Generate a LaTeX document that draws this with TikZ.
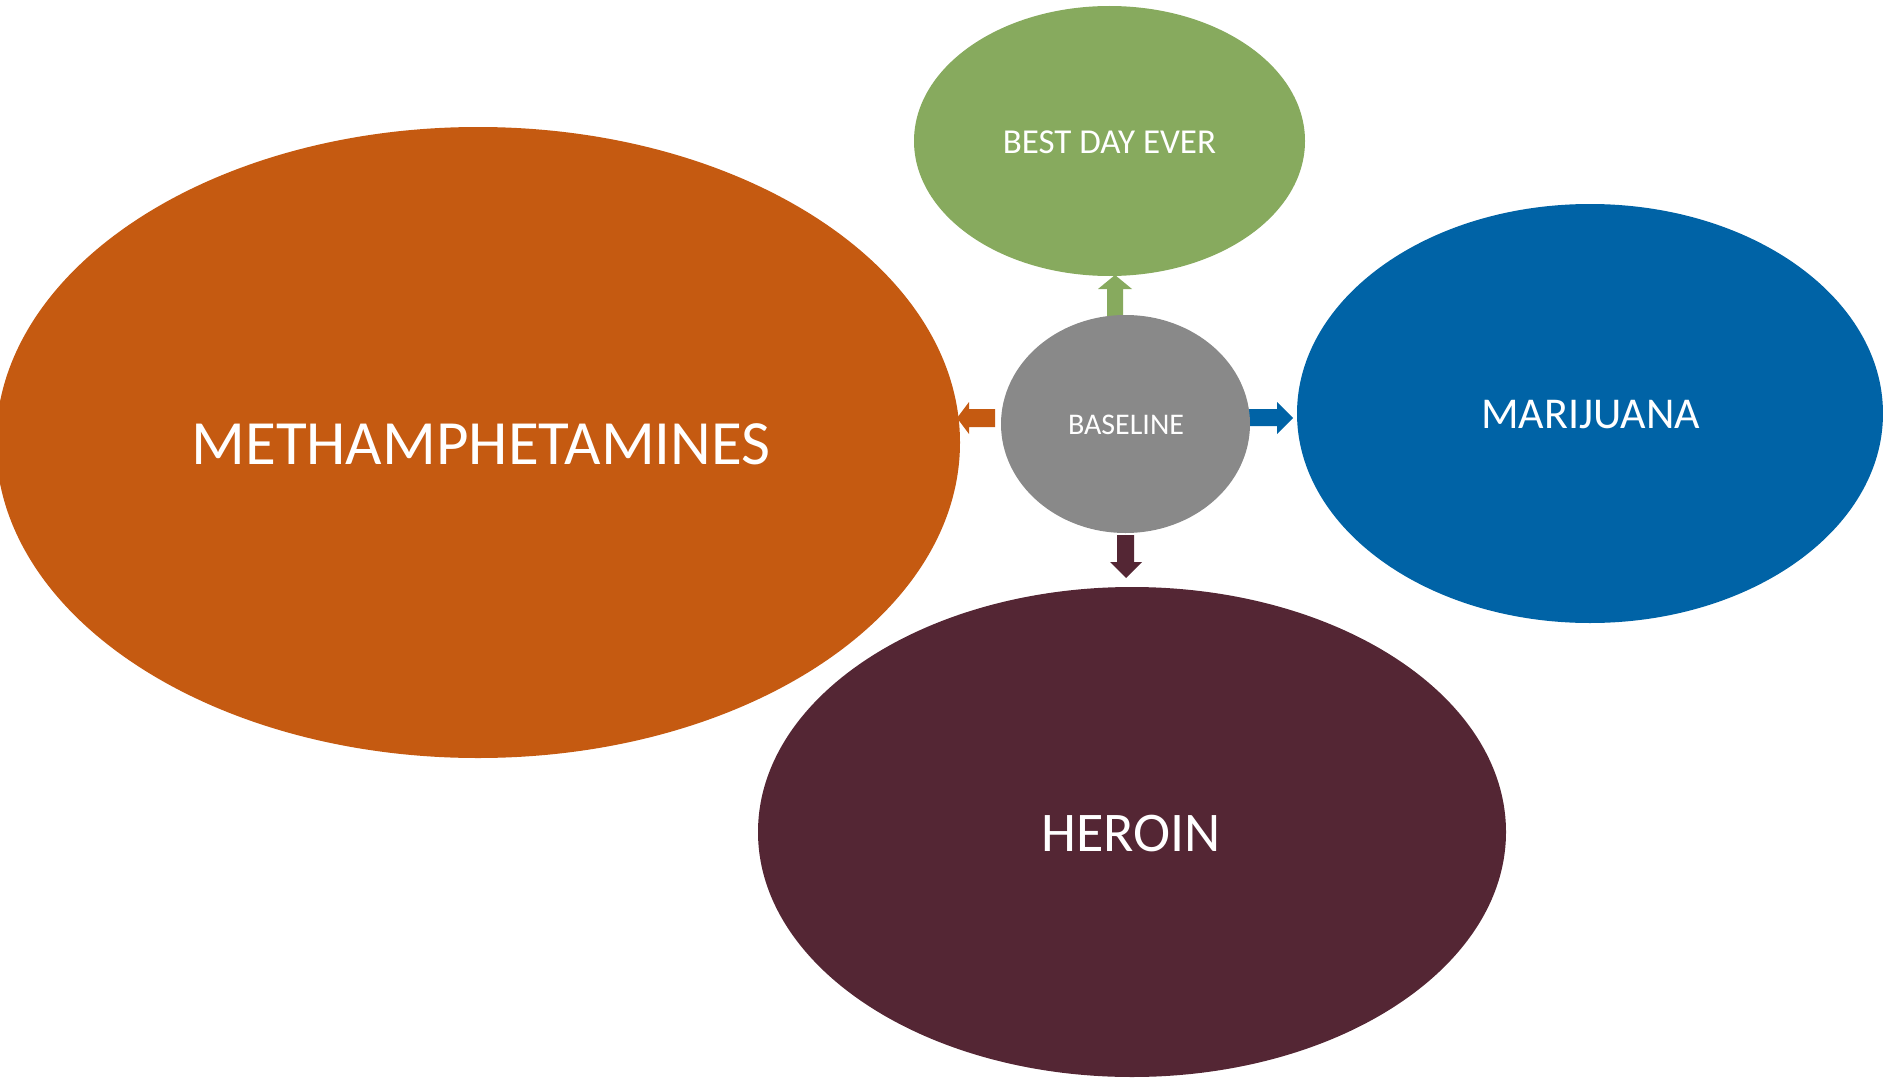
\documentclass[tikz,border=0pt]{standalone}
\usepackage{fontspec}
\setmainfont{Carlito}
\usetikzlibrary{shapes.geometric}
\definecolor{cmeth}{HTML}{C55A11}
\definecolor{cbest}{HTML}{87AA5E}
\definecolor{cmari}{HTML}{0063A6}
\definecolor{cher}{HTML}{542634}
\definecolor{cbase}{HTML}{898989}
\tikzset{
  blob/.style={ellipse, inner sep=0pt, outer sep=0pt},
  lbl/.style={text=white, inner sep=0pt, text depth=0pt, anchor=center},
}
\newcommand{\fs}[1]{\fontsize{#1}{#1}\selectfont}
\begin{document}
\begin{tikzpicture}[x=1pt,y=-1pt]
\useasboundingbox (0,0) rectangle (1883,1081);
% ellipses
\fill[cmeth] (478,442.5) ellipse [x radius=482, y radius=315.5];
\coordinate (meth) at (478,442.5);
\fill[cbest] (1109.5,141) ellipse [x radius=195.5, y radius=135];
\coordinate (best) at (1109.5,141);
\fill[cmari] (1590,413.5) ellipse [x radius=293, y radius=209.5];
\coordinate (mari) at (1590,413.5);
\fill[cher] (1132,832) ellipse [x radius=374, y radius=245];
\coordinate (her) at (1132,832);
% arrows (behind baseline)
\fill[cbest] (1107,318) -- (1107,289) -- (1098,289) -- (1115,275) -- (1132,289) -- (1123,289) -- (1123,318) -- cycle;
\fill[cmeth] (995,409) -- (969,409) -- (969,402) -- (957,418) -- (969,434) -- (969,427) -- (995,427) -- cycle;
\fill[cmari] (1245,409) -- (1277,409) -- (1277,402) -- (1293,418) -- (1277,434) -- (1277,426) -- (1245,426) -- cycle;
\fill[cher] (1117,535) -- (1117,562) -- (1110,562) -- (1126,578) -- (1142,562) -- (1134,562) -- (1134,535) -- cycle;
% baseline
\fill[cbase] (1125.5,424) ellipse [x radius=124.5, y radius=109];
\coordinate (base) at (1125.5,424);
% labels
\node[lbl] (tmeth) at (481,444) {\fs{63}METHAMPHETAMINES};
\node[lbl] (tbest) at (1109.5,142) {\fs{35}BEST DAY EVER};
\node[lbl] (tmari) at (1590.5,414) {\fs{44}MARIJUANA};
\node[lbl] (ther) at (1131,833.5) {\fs{56}HEROIN};
\node[lbl] (tbase) at (1126,424.5) {\fs{30}BASELINE};
\end{tikzpicture}
\end{document}
